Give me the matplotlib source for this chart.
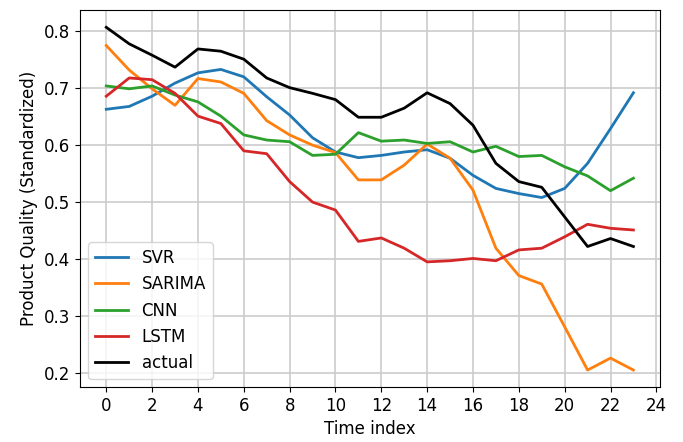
import numpy as np
import matplotlib
matplotlib.use("Agg")
import matplotlib.pyplot as plt

t = np.arange(24)

svr = [0.663, 0.668, 0.686, 0.709, 0.727, 0.733, 0.720, 0.685, 0.653, 0.613,
       0.588, 0.578, 0.582, 0.588, 0.592, 0.577, 0.547, 0.524, 0.515, 0.508,
       0.524, 0.568, 0.629, 0.692]
sarima = [0.775, 0.732, 0.699, 0.670, 0.717, 0.711, 0.691, 0.643, 0.618, 0.600,
          0.587, 0.539, 0.539, 0.565, 0.602, 0.577, 0.521, 0.419, 0.371, 0.356,
          0.281, 0.205, 0.226, 0.205]
cnn = [0.704, 0.699, 0.704, 0.688, 0.676, 0.651, 0.618, 0.609, 0.606, 0.582,
       0.584, 0.622, 0.607, 0.609, 0.603, 0.606, 0.588, 0.598, 0.580, 0.582,
       0.562, 0.546, 0.520, 0.542]
lstm = [0.686, 0.718, 0.715, 0.691, 0.651, 0.638, 0.590, 0.585, 0.536, 0.500,
        0.486, 0.431, 0.437, 0.419, 0.395, 0.397, 0.401, 0.397, 0.416, 0.419,
        0.439, 0.461, 0.454, 0.451]
actual = [0.807, 0.778, 0.758, 0.737, 0.769, 0.765, 0.751, 0.718, 0.701, 0.691,
          0.680, 0.649, 0.649, 0.665, 0.692, 0.673, 0.635, 0.568, 0.536, 0.526,
          0.474, 0.422, 0.436, 0.422]

plt.rcParams["font.size"] = 12

fig = plt.figure(figsize=(6.83, 4.42), dpi=100)
ax = fig.add_axes([0.117, 0.124, 0.849, 0.853])

ax.plot(t, svr, linewidth=2, label="SVR")
ax.plot(t, sarima, linewidth=2, label="SARIMA")
ax.plot(t, cnn, linewidth=2, label="CNN")
ax.plot(t, lstm, linewidth=2, label="LSTM")
ax.plot(t, actual, color="black", linewidth=2, label="actual")

ax.set_xticks(np.arange(0, 25, 2))
ax.set_xlabel("Time index")
ax.set_ylabel("Product Quality (Standardized)")
ax.grid(True, color="#cccccc", linewidth=1.2)
ax.legend(loc="lower left")

fig.savefig("out.png", dpi=100)
